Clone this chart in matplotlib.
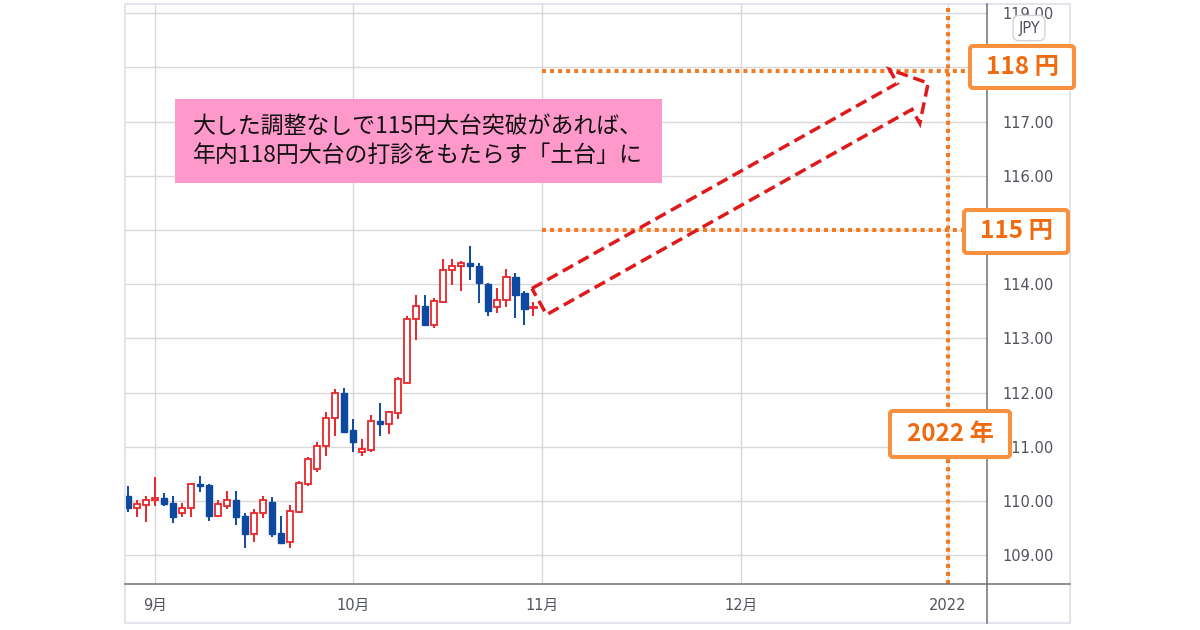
import matplotlib
matplotlib.use('Agg')
import matplotlib.pyplot as plt
import numpy as np
import pandas as pd
from matplotlib.patches import Rectangle, Polygon, FancyBboxPatch
from matplotlib.lines import Line2D
from matplotlib.transforms import IdentityTransform

plt.rcParams['font.family'] = ['DejaVu Sans', 'Noto Sans CJK JP']

# ---------------- data (USD/JPY daily candles) ----------------
dates = pd.bdate_range('2021-08-27', '2021-10-29')
opens = [110.10, 109.88, 109.93, 110.02, 110.05, 109.96, 109.77, 109.88, 110.31, 110.29,
         109.73, 109.90, 110.02, 109.73, 109.39, 109.77, 109.99, 109.41, 109.24, 109.80,
         110.31, 110.59, 111.02, 111.54, 112.00, 111.31, 110.91, 110.94, 111.48, 111.42,
         111.63, 112.18, 113.35, 113.60, 113.25, 113.68, 114.26, 114.33, 114.39, 114.33,
         114.01, 113.58, 113.70, 114.14, 113.84, 113.56]
highs = [110.28, 110.01, 110.10, 110.45, 110.15, 110.10, 109.96, 110.34, 110.47, 110.31,
         110.02, 110.18, 110.18, 109.77, 109.85, 110.10, 110.08, 109.73, 109.93, 110.37,
         110.82, 111.09, 111.64, 112.07, 112.09, 111.51, 111.14, 111.58, 111.81, 111.67,
         112.28, 113.42, 113.81, 113.81, 113.74, 114.46, 114.46, 114.42, 114.71, 114.40,
         114.02, 113.93, 114.28, 114.21, 113.88, 113.68]
lows = [109.79, 109.70, 109.61, 109.90, 109.91, 109.60, 109.71, 109.71, 110.16, 109.63,
        109.71, 109.85, 109.55, 109.13, 109.24, 109.68, 109.33, 109.21, 109.13, 109.78,
        110.27, 110.54, 110.83, 111.20, 111.26, 110.91, 110.83, 110.91, 111.20, 111.23,
        111.51, 112.17, 112.98, 113.22, 113.19, 113.65, 113.99, 113.87, 114.08, 113.65,
        113.42, 113.47, 113.58, 113.37, 113.25, 113.41]
closes = [109.88, 109.94, 110.02, 110.05, 109.94, 109.71, 109.88, 110.31, 110.27, 109.73,
          109.94, 110.02, 109.71, 109.39, 109.77, 110.02, 109.39, 109.23, 109.82, 110.33,
          110.77, 111.02, 111.54, 112.00, 111.28, 111.08, 110.96, 111.48, 111.42, 111.64,
          112.25, 113.35, 113.60, 113.24, 113.69, 114.26, 114.33, 114.39, 114.33, 114.02,
          113.50, 113.71, 114.14, 113.81, 113.54, 113.58]

axis_days = pd.bdate_range('2021-08-27', '2022-01-03')
tick_dates = ['2021-09-01', '2021-10-01', '2021-11-01', '2021-12-01', '2022-01-03']
tick_labels = ['9月', '10月', '11月', '12月', '2022']
y_ticks = list(range(109, 120))
hidden_y_labels = [115, 118]   # covered by the label boxes in the chart

level_118 = 117.93
level_115 = 115.0
arrow_tail = ('2021-10-29', 113.68)
arrow_tip = ('2021-12-31', 117.71)
year_line_date = '2022-01-03'

note_text = '大した調整なしで115円大台突破があれば、\n年内118円大台の打診をもたらす「土台」に'

# ---------------- figure ----------------
W, H = 1200, 630
fig = plt.figure(figsize=(W / 100, H / 100), dpi=100)
fig.patch.set_facecolor('white')


def fx(px):
    return px / W


def fy(py):
    return 1 - py / H


ax = fig.add_axes([fx(125), fy(584), fx(987) - fx(125), fy(4) - fy(584)])
ax.set_facecolor('white')

pos = {d: i for i, d in enumerate(axis_days)}
x = np.array([pos[d] for d in dates], dtype=float)
o = np.array(opens); h = np.array(highs); l = np.array(lows); c = np.array(closes)

RED = '#e8262a'
BLUE = '#0d4a9f'
up = c >= o
col = np.where(up, RED, BLUE)

ax.vlines(x, l, h, colors=col, lw=1.4, zorder=2)
bottom = np.minimum(o, c)
height = np.maximum(np.abs(c - o), 0.025)
ax.bar(x[up], height[up], bottom=bottom[up], width=0.68, facecolor='white',
       edgecolor=RED, linewidth=1.3, zorder=3)
ax.bar(x[~up], height[~up], bottom=bottom[~up], width=0.68, facecolor=BLUE,
       edgecolor=BLUE, linewidth=1.0, zorder=3)

ax.set_xlim(-0.33, 95.33)
ax.set_ylim(108.469, 119.17)

tick_pos = [pos[pd.Timestamp(d)] for d in tick_dates]
ax.set_xticks(tick_pos)
ax.set_xticklabels(tick_labels)
ax.set_yticks(y_ticks)
ax.set_yticklabels(['' if v in hidden_y_labels else f'{v:.2f}' for v in y_ticks])
ax.yaxis.tick_right()
ax.tick_params(axis='y', length=0, pad=11, labelsize=10.5, labelcolor='#50535e')
ax.tick_params(axis='x', length=0, pad=10, labelsize=10.5, labelcolor='#50535e')
ax.grid(True, color='#d8d8d8', lw=1.0, zorder=0)
ax.set_axisbelow(True)
for s in ax.spines.values():
    s.set_visible(False)

# orange dotted guide lines
ORANGE_LINE = '#f47b20'
x_nov = pos[pd.Timestamp('2021-11-01')]
x_year = pos[pd.Timestamp(year_line_date)]
for lvl in (level_118, level_115):
    ax.plot([x_nov, 95.33], [lvl, lvl], color=ORANGE_LINE, lw=2.9,
            ls=(0, (1, 1)), dash_capstyle='butt', zorder=4, clip_on=True)
ax.plot([x_year, x_year], [108.469, 119.17], color=ORANGE_LINE, lw=2.9,
        ls=(0, (1, 1)), dash_capstyle='butt', zorder=4)

# hollow dashed arrow
p0 = ax.transData.transform((pos[pd.Timestamp(arrow_tail[0])] + 0.64, arrow_tail[1]))
p1 = ax.transData.transform((pos[pd.Timestamp(arrow_tip[0])] - 1.2, arrow_tip[1]))
d = p1 - p0
L = np.hypot(*d)
d = d / L
n = np.array([-d[1], d[0]])
hw, HW, hl = 15.0, 31.0, 27.0
neck = p0 + d * (L - hl)
verts_px = [p0 + n * hw, neck + n * hw, neck + n * HW, p1,
            neck - n * HW, neck - n * hw, p0 - n * hw]
verts = ax.transData.inverted().transform(np.array(verts_px))
ax.add_patch(Polygon(verts, closed=True, fill=False, edgecolor='#e0191b', lw=2.5,
                     ls=(0, (3.4, 1.7)), joinstyle='miter', zorder=5))

# ---------------- frame lines ----------------
fig.add_artist(Rectangle((fx(125), fy(623)), fx(1070) - fx(125), fy(4) - fy(623),
                         fill=False, edgecolor='#e3e5ec', lw=1.5, transform=fig.transFigure))
fig.add_artist(Line2D([fx(987), fx(987)], [fy(4), fy(623)], color='#707070', lw=1.1,
                      transform=fig.transFigure))
fig.add_artist(Line2D([fx(125), fx(1070)], [fy(584), fy(584)], color='#707070', lw=1.1,
                      transform=fig.transFigure))

# JPY label
fig.text(fx(1029), fy(28), 'JPY', ha='center', va='center', fontsize=10.5, color='#50535e',
         bbox=dict(boxstyle='round,pad=0.35,rounding_size=0.4', fc='white', ec='#d0d3da', lw=1.0),
         zorder=6)

# pink note
fig.add_artist(Rectangle((fx(175), fy(183)), fx(662) - fx(175), fy(99) - fy(183),
                         facecolor='#ff99cc', edgecolor='none', transform=fig.transFigure, zorder=6))
fig.text(fx(418), fy(141), note_text, ha='center', va='center', fontsize=16.5,
         family=['Noto Sans CJK JP'], color='#111111', linespacing=1.4, zorder=7)

# orange label boxes (pixel coords)
BOX_EDGE = '#f8913f'
BOX_TEXT = '#f06a10'


def label_box(x0, y0, x1, y1, text):
    b = FancyBboxPatch((x0 + 2, H - y1 + 2), (x1 - x0) - 4, (y1 - y0) - 4,
                       boxstyle='round,pad=0,rounding_size=3', facecolor='white',
                       edgecolor=BOX_EDGE, lw=2.9, transform=IdentityTransform(), zorder=8)
    fig.add_artist(b)
    fig.text(fx((x0 + x1) / 2), fy((y0 + y1) / 2), text, ha='center', va='center',
             fontsize=17.5, fontweight='bold', color=BOX_TEXT,
             family=['Noto Sans CJK JP'], zorder=9)


label_box(968, 44, 1076, 90, '118 円')
label_box(962, 208, 1070, 255, '115 円')
label_box(888, 409, 1012, 459, '2022 年')

fig.savefig('out.png', dpi=100)
